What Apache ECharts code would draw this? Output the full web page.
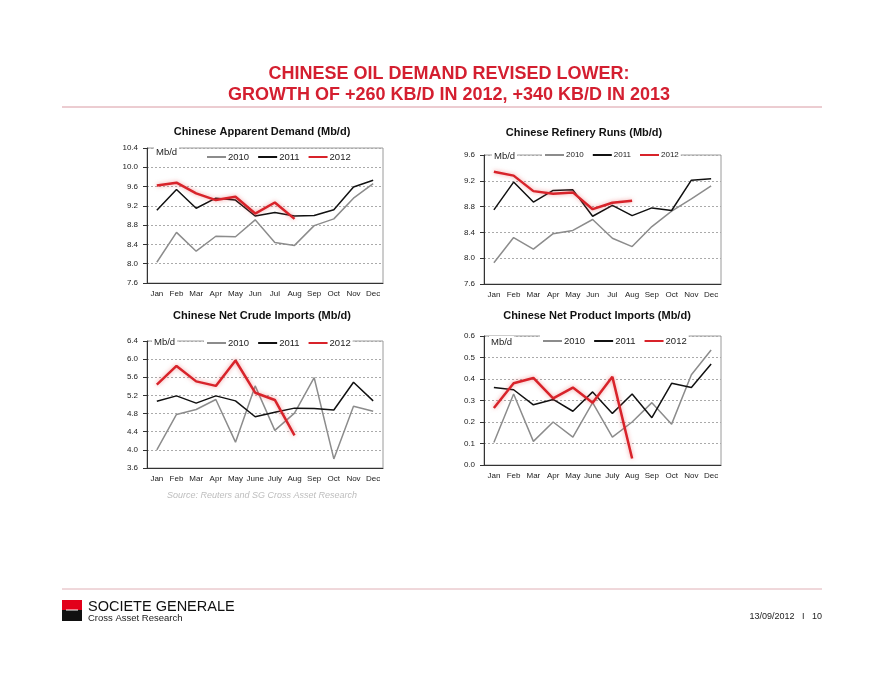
<!DOCTYPE html>
<html><head><meta charset="utf-8">
<script src="https://cdn.jsdelivr.net/npm/echarts@6.0.0/dist/echarts.min.js"></script>
<style>html,body{margin:0;padding:0;background:#fff}#c{width:883px;height:683px}</style>
</head><body><div id="c"></div>
<script>
const monthsA = ['Jan','Feb','Mar','Apr','May','Jun','Jul','Aug','Sep','Oct','Nov','Dec'];
const monthsB = ['Jan','Feb','Mar','Apr','May','June','July','Aug','Sep','Oct','Nov','Dec'];
const years = ['2010','2011','2012'];

const demand2010 = [8.03,8.65,8.26,8.57,8.56,8.91,8.44,8.38,8.79,8.93,9.36,9.66];
const demand2011 = [9.11,9.54,9.15,9.36,9.32,8.99,9.06,8.99,9.00,9.12,9.59,9.73];
const demand2012 = [9.62,9.68,9.46,9.32,9.39,9.04,9.27,8.93];

const runs2010 = [7.93,8.32,8.14,8.38,8.43,8.60,8.31,8.18,8.49,8.73,8.92,9.12];
const runs2011 = [8.75,9.18,8.87,9.05,9.06,8.65,8.82,8.66,8.78,8.74,9.21,9.23];
const runs2012 = [9.34,9.28,9.04,9.00,9.02,8.76,8.86,8.89];

const crude2010 = [4.00,4.78,4.89,5.11,4.17,5.41,4.43,4.81,5.59,3.80,4.96,4.85];
const crude2011 = [5.07,5.19,5.03,5.19,5.08,4.73,4.83,4.92,4.91,4.88,5.49,5.08];
const crude2012 = [5.44,5.85,5.51,5.41,5.97,5.26,5.10,4.32];

const product2010 = [0.105,0.33,0.11,0.20,0.13,0.29,0.13,0.20,0.29,0.19,0.42,0.535];
const product2011 = [0.36,0.35,0.28,0.305,0.25,0.34,0.24,0.33,0.22,0.38,0.36,0.47];
const product2012 = [0.265,0.38,0.405,0.31,0.36,0.29,0.41,0.03];

const panelTitles = ['Chinese Apparent Demand (Mb/d)','Chinese Refinery Runs (Mb/d)','Chinese Net Crude Imports (Mb/d)','Chinese Net Product Imports (Mb/d)'];
const yRanges = [[7.6,10.4,0.4],[7.6,9.6,0.4],[3.6,6.4,0.4],[0,0.6,0.1]];
const panelData = [[demand2010,demand2011,demand2012],[runs2010,runs2011,runs2012],[crude2010,crude2011,crude2012],[product2010,product2011,product2012]];
const panelCats = [monthsA,monthsA,monthsB,monthsB];

// layout
const grids = [
  {left:147, top:148, width:236, height:135},
  {left:484, top:155, width:237, height:129},
  {left:147, top:341, width:236, height:127},
  {left:484, top:336, width:237, height:129}
];
const titlePos = [[262,126],[584,127],[262,310],[597,310]];
const legendPos = [[204,151],[542,150],[204,337],[540,335]];
const mbdPos = [[154,146],[492,150],[152,336],[489,336]];

const RED = '#d8232a';
const colors = ['#8c8c8c','#111111',RED];

const option = {
  animation:false,
  textStyle:{fontFamily:'Liberation Sans, Arial, sans-serif'},
  title: [
    {text:'CHINESE OIL DEMAND REVISED LOWER:\nGROWTH OF +260 KB/D IN 2012, +340 KB/D IN 2013', left:449, top:64, padding:0,
     textAlign:'center', textStyle:{color:'#d41f30', fontSize:18, fontWeight:'bold', lineHeight:21, fontFamily:'Liberation Sans, Arial'}}
  ].concat(panelTitles.map((t,i)=>({text:t, left:titlePos[i][0], top:titlePos[i][1], textAlign:'center', padding:0,
      textStyle:{fontSize:11, fontWeight:'bold', color:'#111', fontFamily:'Liberation Sans, Arial'}}))),
  grid: grids.map(g=>Object.assign({show:true, borderColor:'#9a9a9a', borderWidth:1, backgroundColor:'transparent'}, g)),
  xAxis: panelCats.map((c,i)=>({type:'category', gridIndex:i, data:c, boundaryGap:true,
    axisLine:{lineStyle:{color:'#333', width:1}}, axisTick:{inside:true, length:3, lineStyle:{color:'#333'}},
    axisLabel:{fontSize:8, color:'#222', margin:7, interval:0}})),
  yAxis: yRanges.map((r,i)=>({type:'value', gridIndex:i, min:r[0], max:r[1], interval:r[2],
    axisLine:{show:true, lineStyle:{color:'#333', width:1}}, axisTick:{show:true, length:4, lineStyle:{color:'#333'}},
    axisLabel:{fontSize:8, color:'#222', margin:9, formatter:v=>v.toFixed(1)},
    splitLine:{show:true, lineStyle:{color:'#aaa', type:[2,2], width:1}}})),
  legend: legendPos.map((p,i)=>({left:p[0], top:p[1], itemWidth:19, itemHeight:8, itemGap:8,
    backgroundColor:'#fff', padding:[1,2], data:years, selectedMode:false,
    itemStyle:{opacity:0},
    textStyle:{fontSize: i===1?8:9.5, color:'#222', padding:[0,0,0,-3]}})),
  graphic: [
    {type:'line', shape:{x1:62,y1:107,x2:822,y2:107}, style:{stroke:'#d99aa3', lineWidth:1}},
    {type:'line', shape:{x1:62,y1:589,x2:822,y2:589}, style:{stroke:'#e0b0b6', lineWidth:1}},
    {type:'rect', shape:{x:62,y:600,width:20,height:10}, style:{fill:'#e2001a'}},
    {type:'rect', shape:{x:62,y:610,width:20,height:11}, style:{fill:'#111'}},
    {type:'rect', shape:{x:66,y:609.5,width:12,height:1}, style:{fill:'#fff'}},
    {type:'text', x:88, y:599, style:{text:'SOCIETE GENERALE', font:'14.5px "Liberation Sans", Arial', fill:'#111'}},
    {type:'text', x:88, y:613, style:{text:'Cross Asset Research', font:'9.5px "Liberation Sans Narrow", "Liberation Sans", Arial', fill:'#222'}},
    {type:'text', x:822, y:612, style:{text:'13/09/2012   I   10', font:'9px "Liberation Sans", Arial', fill:'#222', align:'right'}},
    {type:'text', x:262, y:491, style:{text:'Source: Reuters and SG Cross Asset Research', font:'italic 9px "Liberation Sans", Arial', fill:'#bdbdbd', align:'center'}}
  ].concat(mbdPos.map(p=>({type:'text', x:p[0], y:p[1], z:100, style:{text:'Mb/d', font:'9.5px "Liberation Sans", Arial', fill:'#222', backgroundColor:'#fff', padding:[1,2]}}))),
  series: []
};

panelData.forEach((set,i)=>{
  set.forEach((d,k)=>{
    option.series.push({
      type:'line', name:years[k], xAxisIndex:i, yAxisIndex:i, data:d, symbol:'none', showSymbol:false,
      z: k===2?5:(k===1?4:3),
      lineStyle: k===2 ? {color:RED, width:2.5, shadowColor:'rgba(230,80,80,0.55)', shadowBlur:4}
                       : {color:colors[k], width:1.5},
      itemStyle:{color:colors[k]}
    });
  });
});

const chart = echarts.init(document.getElementById('c'));
chart.setOption(option);
</script></body></html>
